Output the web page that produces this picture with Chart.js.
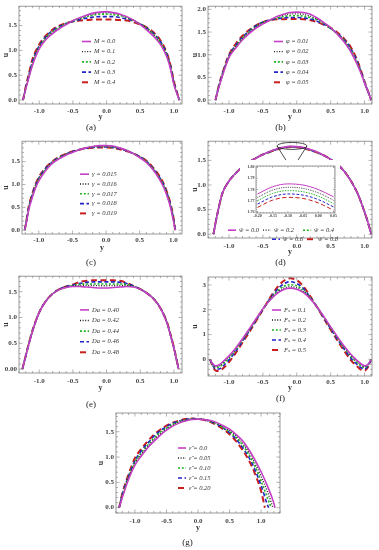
<!DOCTYPE html>
<html>
<head>
<meta charset="utf-8">
<script src="https://cdn.jsdelivr.net/npm/chart.js@4/dist/chart.umd.min.js"></script>
<style>
  body { margin: 0; background: #fff; }
  #wrap { position: relative; width: 379px; height: 550px; background: #fff; }
  canvas { position: absolute; }
</style>
</head>
<body>
<div id="wrap">
  <canvas id="ca" width="189" height="135" style="left:0;top:0"></canvas>
  <canvas id="cb" width="190" height="135" style="left:189px;top:0"></canvas>
  <canvas id="cc" width="189" height="135" style="left:0;top:135px"></canvas>
  <canvas id="cd" width="190" height="135" style="left:189px;top:135px"></canvas>
  <canvas id="ci" width="100" height="63" style="left:240px;top:160px;background:#fff"></canvas>
  <canvas id="ce" width="189" height="142" style="left:0;top:270px"></canvas>
  <canvas id="cf" width="190" height="136" style="left:189px;top:270px"></canvas>
  <canvas id="cg" width="190" height="150" style="left:95px;top:400px"></canvas>
</div>
<script>
// ---- data ----
const xTicks = [-1, -0.5, 0, 0.5, 1]
const xTickLabels = ["-1.0", "-0.5", "0.0", "0.5", "1.0"]
const uTicks = [0, 0.5, 1, 1.5]
const uTickLabels = ["0.0", "0.5", "1.0", "1.5"]

// (a) M
const aY = [-1.24, -1.2, -1.15, -1.1, -1.0, -0.9, -0.8, -0.7, -0.6, -0.5, -0.4, -0.3, -0.2, -0.1, 0, 0.1, 0.2, 0.3, 0.4, 0.5, 0.6, 0.7, 0.8, 0.9, 0.95, 1.0, 1.08]
const aM0 = [0, 0.22, 0.47, 0.7, 1.03, 1.22, 1.34, 1.44, 1.52, 1.6, 1.66, 1.71, 1.75, 1.77, 1.78, 1.76, 1.73, 1.68, 1.61, 1.52, 1.41, 1.28, 1.12, 0.85, 0.62, 0.31, 0]
const aM1 = [0, 0.23, 0.48, 0.72, 1.05, 1.24, 1.36, 1.45, 1.53, 1.6, 1.65, 1.7, 1.73, 1.76, 1.76, 1.75, 1.72, 1.67, 1.61, 1.53, 1.43, 1.3, 1.14, 0.87, 0.64, 0.33, 0]
const aM2 = [0, 0.24, 0.5, 0.75, 1.07, 1.26, 1.38, 1.47, 1.54, 1.59, 1.64, 1.68, 1.71, 1.73, 1.73, 1.72, 1.7, 1.66, 1.6, 1.53, 1.44, 1.32, 1.16, 0.89, 0.66, 0.34, 0]
const aM3 = [0, 0.25, 0.52, 0.78, 1.09, 1.28, 1.4, 1.48, 1.54, 1.58, 1.62, 1.65, 1.67, 1.68, 1.68, 1.68, 1.66, 1.63, 1.59, 1.53, 1.45, 1.34, 1.18, 0.91, 0.68, 0.36, 0]
const aM4 = [0, 0.27, 0.55, 0.82, 1.12, 1.3, 1.42, 1.5, 1.55, 1.58, 1.6, 1.61, 1.62, 1.62, 1.62, 1.62, 1.61, 1.6, 1.57, 1.52, 1.46, 1.36, 1.2, 0.93, 0.7, 0.38, 0]
const aLabels = ["M = 0.0", "M = 0.1", "M = 0.2", "M = 0.3", "M = 0.4"]

// (b) phi
const bY = [-1.2, -1.15, -1.1, -1.0, -0.9, -0.8, -0.7, -0.6, -0.5, -0.4, -0.3, -0.2, -0.1, 0, 0.1, 0.2, 0.3, 0.4, 0.5, 0.6, 0.7, 0.8, 0.9, 0.95, 1.0, 1.1]
const bP1 = [0, 0.28, 0.52, 0.94, 1.15, 1.33, 1.47, 1.59, 1.68, 1.76, 1.84, 1.89, 1.93, 1.94, 1.93, 1.89, 1.81, 1.71, 1.6, 1.45, 1.28, 1.06, 0.76, 0.58, 0.38, 0]
const bP2 = [0, 0.29, 0.53, 0.95, 1.17, 1.35, 1.49, 1.61, 1.7, 1.76, 1.83, 1.87, 1.9, 1.9, 1.89, 1.85, 1.79, 1.7, 1.59, 1.45, 1.29, 1.07, 0.77, 0.59, 0.38, 0]
const bP3 = [0, 0.3, 0.55, 0.96, 1.19, 1.37, 1.51, 1.62, 1.71, 1.76, 1.81, 1.84, 1.86, 1.86, 1.85, 1.82, 1.77, 1.69, 1.58, 1.46, 1.31, 1.1, 0.8, 0.6, 0.39, 0]
const bP4 = [0, 0.31, 0.57, 0.98, 1.21, 1.39, 1.53, 1.64, 1.72, 1.76, 1.79, 1.81, 1.82, 1.82, 1.81, 1.79, 1.74, 1.67, 1.58, 1.47, 1.33, 1.13, 0.82, 0.62, 0.4, 0]
const bP5 = [0, 0.32, 0.58, 1.0, 1.24, 1.42, 1.55, 1.65, 1.72, 1.76, 1.78, 1.78, 1.79, 1.79, 1.78, 1.76, 1.72, 1.66, 1.59, 1.49, 1.35, 1.16, 0.85, 0.64, 0.41, 0]
const bLabels = ["φ = 0.01", "φ = 0.02", "φ = 0.03", "φ = 0.04", "φ = 0.05"]

// (c) gamma
const cY = [-1.21, -1.18, -1.15, -1.1, -1.05, -1.0, -0.9, -0.8, -0.7, -0.6, -0.5, -0.4, -0.3, -0.2, -0.1, 0, 0.1, 0.2, 0.3, 0.4, 0.5, 0.6, 0.7, 0.8, 0.85, 0.9, 0.95, 1.0, 1.03]
const cG1 = [0, 0.2, 0.44, 0.7, 0.92, 1.08, 1.3, 1.46, 1.56, 1.64, 1.7, 1.76, 1.8, 1.83, 1.85, 1.85, 1.84, 1.8, 1.75, 1.68, 1.59, 1.48, 1.32, 1.1, 0.96, 0.78, 0.55, 0.22, 0]
const cG2 = [0, 0.21, 0.46, 0.72, 0.94, 1.1, 1.32, 1.47, 1.57, 1.65, 1.71, 1.76, 1.8, 1.83, 1.84, 1.84, 1.83, 1.8, 1.75, 1.68, 1.6, 1.49, 1.33, 1.12, 0.98, 0.8, 0.57, 0.24, 0]
const cG3 = [0, 0.22, 0.48, 0.74, 0.96, 1.12, 1.33, 1.48, 1.58, 1.66, 1.71, 1.76, 1.8, 1.82, 1.83, 1.83, 1.82, 1.79, 1.75, 1.68, 1.6, 1.5, 1.34, 1.13, 1.0, 0.82, 0.59, 0.26, 0]
const cG4 = [0, 0.23, 0.5, 0.76, 0.98, 1.14, 1.35, 1.49, 1.59, 1.66, 1.72, 1.76, 1.79, 1.81, 1.82, 1.82, 1.81, 1.78, 1.74, 1.68, 1.61, 1.51, 1.35, 1.15, 1.02, 0.84, 0.61, 0.28, 0]
const cG5 = [0, 0.25, 0.52, 0.78, 1.0, 1.16, 1.36, 1.5, 1.6, 1.67, 1.72, 1.76, 1.79, 1.8, 1.81, 1.81, 1.8, 1.77, 1.73, 1.68, 1.61, 1.52, 1.37, 1.17, 1.04, 0.86, 0.63, 0.3, 0]
const cLabels = ["γ = 0.015", "γ = 0.016", "γ = 0.017", "γ = 0.018", "γ = 0.019"]

// (d) w-hat, main plot and inset
const dY = [-1.23, -1.2, -1.15, -1.1, -1.0, -0.9, -0.8, -0.7, -0.6, -0.5, -0.4, -0.3, -0.2, -0.1, 0, 0.1, 0.2, 0.3, 0.4, 0.5, 0.6, 0.7, 0.8, 0.9, 1.0, 1.05, 1.1]
const dW0 = [0, 0.22, 0.55, 0.82, 1.08, 1.24, 1.37, 1.47, 1.55, 1.62, 1.68, 1.73, 1.765, 1.785, 1.78, 1.76, 1.72, 1.67, 1.6, 1.52, 1.42, 1.28, 1.08, 0.82, 0.45, 0.24, 0]
const dW1 = [0, 0.22, 0.55, 0.82, 1.08, 1.24, 1.37, 1.47, 1.55, 1.62, 1.677, 1.727, 1.762, 1.782, 1.777, 1.757, 1.717, 1.667, 1.6, 1.52, 1.42, 1.28, 1.08, 0.82, 0.45, 0.24, 0]
const dW2 = [0, 0.22, 0.55, 0.82, 1.08, 1.24, 1.37, 1.47, 1.55, 1.62, 1.674, 1.724, 1.759, 1.779, 1.774, 1.754, 1.714, 1.664, 1.6, 1.52, 1.42, 1.28, 1.08, 0.82, 0.45, 0.24, 0]
const dW3 = [0, 0.22, 0.55, 0.82, 1.08, 1.24, 1.37, 1.47, 1.55, 1.62, 1.671, 1.721, 1.756, 1.776, 1.771, 1.751, 1.711, 1.661, 1.6, 1.52, 1.42, 1.28, 1.08, 0.82, 0.45, 0.24, 0]
const dW4 = [0, 0.22, 0.55, 0.82, 1.08, 1.24, 1.37, 1.47, 1.55, 1.62, 1.668, 1.718, 1.753, 1.773, 1.768, 1.748, 1.708, 1.658, 1.6, 1.52, 1.42, 1.28, 1.08, 0.82, 0.45, 0.24, 0]
const dLabels = ["ŵ = 0.0", "ŵ = 0.2", "ŵ = 0.4", "ŵ = 0.6", "ŵ = 0.8"]
const dInY = [-0.2, -0.15, -0.1, -0.05, 0, 0.05]
const dIn0 = [1.776, 1.7825, 1.785, 1.784, 1.78, 1.7735]
const dIn1 = [1.773, 1.7795, 1.782, 1.781, 1.777, 1.7705]
const dIn2 = [1.77, 1.7765, 1.779, 1.778, 1.774, 1.7675]
const dIn3 = [1.767, 1.7735, 1.776, 1.775, 1.771, 1.7645]
const dIn4 = [1.764, 1.7705, 1.773, 1.772, 1.768, 1.7615]
const dInXTicks = [-0.2, -0.15, -0.1, -0.05, 0, 0.05]
const dInXLabels = ["-0.20", "-0.15", "-0.10", "-0.05", "0.00", "0.05"]
const dInUTicks = [1.76, 1.77, 1.78, 1.79, 1.8]
const dInULabels = ["1.76", "1.77", "1.78", "1.79", "1.80"]

// (e) Da
const eY = [-1.25, -1.2, -1.15, -1.1, -1.0, -0.9, -0.8, -0.7, -0.6, -0.5, -0.4, -0.3, -0.2, -0.1, 0, 0.1, 0.2, 0.3, 0.4, 0.5, 0.6, 0.7, 0.8, 0.9, 0.95, 1.0, 1.07]
const eD0 = [0, 0.25, 0.5, 0.73, 1.1, 1.32, 1.46, 1.54, 1.58, 1.6, 1.6, 1.59, 1.58, 1.57, 1.57, 1.58, 1.59, 1.6, 1.59, 1.55, 1.47, 1.36, 1.18, 0.88, 0.65, 0.4, 0]
const eD1 = [0, 0.25, 0.5, 0.73, 1.1, 1.32, 1.46, 1.54, 1.59, 1.61, 1.62, 1.62, 1.62, 1.615, 1.615, 1.62, 1.62, 1.62, 1.6, 1.55, 1.47, 1.36, 1.18, 0.88, 0.65, 0.4, 0]
const eD2 = [0, 0.25, 0.51, 0.74, 1.1, 1.32, 1.46, 1.54, 1.59, 1.62, 1.64, 1.65, 1.65, 1.65, 1.65, 1.65, 1.65, 1.64, 1.6, 1.55, 1.47, 1.36, 1.18, 0.89, 0.66, 0.41, 0]
const eD3 = [0, 0.26, 0.51, 0.74, 1.1, 1.32, 1.46, 1.55, 1.6, 1.63, 1.66, 1.68, 1.69, 1.69, 1.69, 1.69, 1.68, 1.66, 1.61, 1.55, 1.47, 1.36, 1.18, 0.89, 0.66, 0.41, 0]
const eD4 = [0, 0.26, 0.52, 0.75, 1.1, 1.32, 1.46, 1.55, 1.6, 1.64, 1.69, 1.71, 1.72, 1.72, 1.72, 1.72, 1.71, 1.67, 1.61, 1.55, 1.47, 1.36, 1.18, 0.9, 0.67, 0.42, 0]
const eLabels = ["Da = 0.40", "Da = 0.42", "Da = 0.44", "Da = 0.46", "Da = 0.48"]
const eUTickLabels = ["0.00", "0.5", "1.0", "1.5"]

// (f) Fs
const fY = [-1.28, -1.25, -1.2, -1.15, -1.1, -1.0, -0.9, -0.8, -0.7, -0.6, -0.5, -0.4, -0.3, -0.2, -0.1, 0, 0.1, 0.2, 0.3, 0.4, 0.5, 0.6, 0.7, 0.8, 0.85, 0.9, 0.95, 1.0, 1.05, 1.1]
const fF1 = [0, -0.15, -0.26, -0.23, -0.12, 0.14, 0.46, 0.83, 1.23, 1.64, 2.04, 2.37, 2.64, 2.81, 2.87, 2.83, 2.69, 2.44, 2.11, 1.72, 1.31, 0.91, 0.53, 0.2, 0.06, -0.07, -0.18, -0.26, -0.2, 0]
const fF2 = [0, -0.16, -0.29, -0.27, -0.16, 0.1, 0.43, 0.81, 1.21, 1.63, 2.03, 2.38, 2.67, 2.86, 2.93, 2.88, 2.73, 2.46, 2.11, 1.71, 1.29, 0.89, 0.5, 0.16, 0.02, -0.11, -0.22, -0.29, -0.22, 0]
const fF3 = [0, -0.17, -0.32, -0.31, -0.21, 0.05, 0.39, 0.78, 1.18, 1.61, 2.03, 2.4, 2.72, 2.93, 3.01, 2.96, 2.78, 2.48, 2.11, 1.69, 1.27, 0.86, 0.46, 0.12, -0.03, -0.15, -0.26, -0.33, -0.24, 0]
const fF4 = [0, -0.2, -0.38, -0.39, -0.3, -0.02, 0.33, 0.73, 1.15, 1.58, 2.01, 2.43, 2.78, 3.03, 3.13, 3.06, 2.85, 2.5, 2.1, 1.67, 1.23, 0.81, 0.41, 0.04, -0.1, -0.23, -0.34, -0.39, -0.28, 0]
const fF5 = [0, -0.22, -0.44, -0.47, -0.39, -0.11, 0.26, 0.68, 1.1, 1.55, 2.0, 2.46, 2.86, 3.15, 3.27, 3.19, 2.94, 2.54, 2.1, 1.64, 1.19, 0.76, 0.34, -0.04, -0.19, -0.31, -0.42, -0.46, -0.32, 0]
const fLabels = ["Fₛ = 0.1", "Fₛ = 0.2", "Fₛ = 0.3", "Fₛ = 0.4", "Fₛ = 0.5"]
const fUTicks = [0, 1, 2, 3]
const fUTickLabels = ["0", "1", "2", "3"]

// (g) epsilon-hat (right wall moves in)
const gY = [-1.25, -1.2, -1.1, -1.0, -0.9, -0.8, -0.7, -0.6, -0.5, -0.4, -0.3, -0.2, -0.1, 0, 0.1, 0.2, 0.3, 0.4, 0.5, 0.6, 0.7, 0.8, 0.9, 1.0, 1.1, 1.2]
const gE0 = [0, 0.2, 0.56, 0.84, 1.02, 1.18, 1.31, 1.43, 1.53, 1.61, 1.67, 1.71, 1.74, 1.75, 1.74, 1.72, 1.68, 1.62, 1.55, 1.45, 1.33, 1.16, 0.95, 0.71, 0.43, 0.1]
const gE1 = [0, 0.22, 0.59, 0.87, 1.05, 1.2, 1.34, 1.46, 1.55, 1.63, 1.68, 1.72, 1.75, 1.75, 1.74, 1.71, 1.67, 1.6, 1.52, 1.42, 1.29, 1.11, 0.89, 0.62, 0.32, null]
const gE2 = [0, 0.24, 0.61, 0.9, 1.08, 1.23, 1.37, 1.49, 1.57, 1.65, 1.7, 1.73, 1.75, 1.75, 1.74, 1.7, 1.66, 1.58, 1.5, 1.39, 1.25, 1.06, 0.83, 0.53, 0.2, null]
const gE3 = [0, 0.26, 0.63, 0.93, 1.12, 1.27, 1.41, 1.52, 1.6, 1.67, 1.71, 1.74, 1.76, 1.75, 1.74, 1.7, 1.65, 1.57, 1.48, 1.36, 1.2, 1.01, 0.76, 0.44, 0.06, null]
const gE4 = [0, 0.28, 0.66, 0.98, 1.16, 1.31, 1.44, 1.54, 1.62, 1.68, 1.72, 1.75, 1.76, 1.75, 1.73, 1.69, 1.63, 1.55, 1.45, 1.32, 1.15, 0.95, 0.68, 0.33, null, null]
const gEnd = [1.22, 1.19, 1.16, 1.12, 1.06]
const gLabels = ["ε̂ = 0.0", "ε̂ = 0.05", "ε̂ = 0.10", "ε̂ = 0.15", "ε̂ = 0.20"]

// ---- styling ----
const serif = '"Liberation Serif", "DejaVu Serif", serif'
const looks = [
  { color: "#c43fc4", dash: [], width: 1.6 },
  { color: "#1c1c1c", dash: [1, 1.6], width: 1.3 },
  { color: "#22b222", dash: [2, 1.8], width: 1.6 },
  { color: "#2323c6", dash: [4, 2.5], width: 1.6 },
  { color: "#c81e1e", dash: [6, 3.5], width: 2 }
]

function series(xs, list, labels, ends, thin) {
  return list.map((vals, i) => {
    const data = []
    xs.forEach((x, j) => {
      if (vals[j] !== null) data.push({ x: x, y: vals[j] })
    })
    if (ends) data.push({ x: ends[i], y: 0 })
    const lk = looks[i]
    return {
      label: labels[i],
      data: data,
      borderColor: lk.color,
      borderDash: thin ? lk.dash.map(d => d * 0.7) : lk.dash,
      borderWidth: thin ? 1 : lk.width,
      pointRadius: 0,
      fill: false,
      cubicInterpolationMode: "monotone"
    }
  })
}

// boxed frame with inward ticks on all four sides
const framePlugin = {
  id: "frame",
  afterDatasetsDraw(chart, args, o) {
    const { ctx, chartArea: a } = chart
    ctx.save()
    ctx.strokeStyle = "#808080"
    ctx.lineWidth = 0.8
    ctx.strokeRect(a.left, a.top, a.right - a.left, a.bottom - a.top)
    ctx.lineWidth = 0.6
    const marks = scale => {
      const vals = scale.ticks.map(t => t.value)
      const step = vals[1] - vals[0]
      const minor = step / 5
      const start = vals[0] - Math.floor((vals[0] - scale.min) / minor + 1e-9) * minor
      const out = []
      for (let k = 0; start + k * minor <= scale.max + 1e-9; k++) {
        const v = start + k * minor
        const r = (v - vals[0]) / step
        const major = Math.abs(r - Math.round(r)) < 1e-6
        out.push([scale.getPixelForValue(v), major ? o.major : o.minor])
      }
      return out
    }
    ctx.beginPath()
    marks(chart.scales.x).forEach(([p, len]) => {
      ctx.moveTo(p, a.bottom); ctx.lineTo(p, a.bottom - len)
      ctx.moveTo(p, a.top); ctx.lineTo(p, a.top + len)
    })
    marks(chart.scales.y).forEach(([p, len]) => {
      ctx.moveTo(a.left, p); ctx.lineTo(a.left + len, p)
      ctx.moveTo(a.right, p); ctx.lineTo(a.right - len, p)
    })
    ctx.stroke()
    ctx.restore()
  }
}

// legend drawn inside the plot box
const inLegend = {
  id: "inLegend",
  afterDatasetsDraw(chart, args, o) {
    if (!o.cells) return
    const { ctx, chartArea: a } = chart
    ctx.save()
    ctx.font = "italic 6.5px " + serif
    ctx.textBaseline = "middle"
    chart.data.datasets.forEach((ds, i) => {
      const x = a.left + o.cells[i][0]
      const y = a.top + o.cells[i][1]
      ctx.strokeStyle = ds.borderColor
      ctx.lineWidth = ds.borderWidth
      ctx.setLineDash(ds.borderDash)
      ctx.beginPath()
      ctx.moveTo(x, y)
      ctx.lineTo(x + o.len, y)
      ctx.stroke()
      ctx.setLineDash([])
      ctx.fillStyle = "#333"
      ctx.fillText(ds.label, x + o.len + 3, y)
    })
    ctx.restore()
  }
}

// ellipse + cone pointing at the inset in (d)
const zoomMark = {
  id: "zoomMark",
  afterDatasetsDraw(chart, args, o) {
    if (!o.on) return
    const { ctx, scales: { x, y } } = chart
    const cx = x.getPixelForValue(o.x)
    const cy = y.getPixelForValue(o.y)
    const ay = y.getPixelForValue(o.apex)
    ctx.save()
    ctx.strokeStyle = "#222"
    ctx.lineWidth = 0.8
    ctx.beginPath()
    ctx.ellipse(cx, cy, o.rx, o.ry, 0, 0, Math.PI * 2)
    ctx.moveTo(cx - o.rx, cy)
    ctx.lineTo(cx, ay)
    ctx.lineTo(cx + o.rx, cy)
    ctx.stroke()
    ctx.restore()
  }
}

function column(dx, dy, step) {
  return [0, 1, 2, 3, 4].map(k => [dx, dy + k * step])
}

function axis(c, horizontal) {
  return {
    type: "linear",
    min: c.min,
    max: c.max,
    afterBuildTicks: s => { s.ticks = c.ticks.map(v => ({ value: v })) },
    afterFit: s => { if (horizontal) s.height = c.size; else s.width = c.size },
    grid: { display: false, drawTicks: false },
    border: { display: false },
    ticks: {
      autoSkip: false,
      maxRotation: 0,
      padding: c.tickPad,
      color: "#444",
      font: { family: serif, size: c.font || 7, weight: "bold" },
      callback: (v, i) => c.labels[i]
    },
    title: {
      display: !!c.title,
      text: c.title,
      color: "#333",
      font: { family: serif, size: 8, weight: "bold" },
      padding: { top: c.titlePad || 0, bottom: c.titlePad || 0 }
    }
  }
}

function panel(id, p) {
  return new Chart(document.getElementById(id), {
    type: "line",
    data: { datasets: p.datasets },
    options: {
      responsive: false,
      animation: false,
      events: [],
      layout: { padding: { top: p.top, right: p.right, left: 0, bottom: 0 } },
      scales: { x: axis(p.x, true), y: axis(p.y, false) },
      plugins: {
        legend: { display: false },
        tooltip: { enabled: false },
        title: {
          display: !!p.caption,
          text: p.caption,
          position: "bottom",
          color: "#222",
          font: { family: serif, size: 9, weight: "normal" },
          padding: { top: 0, bottom: 2 }
        },
        frame: p.frame || { major: 3.5, minor: 2 },
        inLegend: p.legend || {},
        zoomMark: p.zoom || {}
      }
    },
    plugins: [framePlugin, inLegend, zoomMark]
  })
}

const xAxisStd = (min, max, size, tickPad, titlePad) => ({
  min, max, size, tickPad, titlePad, ticks: xTicks, labels: xTickLabels, title: "y"
})
const uAxis = (min, max, size, ticks, labels) => ({
  min, max, size, ticks, labels, tickPad: 2, titlePad: 1, title: "u"
})

panel("ca", {
  datasets: series(aY, [aM0, aM1, aM2, aM3, aM4], aLabels),
  top: 4, right: 7, caption: "(a)",
  x: xAxisStd(-1.30, 1.12, 18.2, 2.5, 0),
  y: uAxis(-0.08, 1.89, 19, uTicks, uTickLabels),
  legend: { cells: column(63, 35.3, 10.2), len: 9 }
})

panel("cb", {
  datasets: series(bY, [bP1, bP2, bP3, bP4, bP5], bLabels),
  top: 4, right: 7, caption: "(b)",
  x: xAxisStd(-1.31, 1.11, 18.2, 2.5, 0),
  y: uAxis(-0.086, 2.07, 19, [0, 0.5, 1, 1.5, 2], ["0.0", "0.5", "1.0", "1.5", "2.0"]),
  legend: { cells: column(66, 35.3, 10.2), len: 9 }
})

panel("cc", {
  datasets: series(cY, [cG1, cG2, cG3, cG4, cG5], cLabels),
  top: 2, right: 7, caption: "(c)",
  x: xAxisStd(-1.25, 1.13, 23.2, 1.5, 4.4),
  y: uAxis(-0.084, 1.946, 22, uTicks, uTickLabels),
  legend: { cells: column(58, 33, 9.8), len: 9 }
})

panel("cd", {
  datasets: series(dY, [dW0, dW1, dW2, dW3, dW4], dLabels),
  top: 1, right: 7, caption: "(d)",
  x: xAxisStd(-1.31, 1.11, 19.2, 3.5, 0),
  y: uAxis(-0.077, 1.89, 19, uTicks, uTickLabels),
  legend: { cells: [[20, 89], [55, 89], [95, 89], [64, 98], [99, 98]], len: 8 },
  zoom: { on: true, x: -0.071, y: 1.794, apex: 1.311, rx: 15, ry: 3.5 }
})

panel("ci", {
  datasets: series(dInY, [dIn0, dIn1, dIn2, dIn3, dIn4], dLabels, null, true),
  top: 6, right: 5,
  x: { min: -0.205, max: 0.055, size: 10, tickPad: 1, ticks: dInXTicks, labels: dInXLabels, font: 4 },
  y: { min: 1.759, max: 1.801, size: 16, tickPad: 1.5, ticks: dInUTicks, labels: dInULabels, font: 4 },
  frame: { major: 2, minor: 1 }
})

panel("ce", {
  datasets: series(eY, [eD0, eD1, eD2, eD3, eD4], eLabels),
  top: 4, right: 7, caption: "(e)",
  x: xAxisStd(-1.30, 1.12, 26.2, 4, 6.4),
  y: uAxis(-0.075, 1.80, 19, uTicks, eUTickLabels),
  legend: { cells: column(61, 33.7, 10.6), len: 9 }
})

panel("cf", {
  datasets: series(fY, [fF1, fF2, fF3, fF4, fF5], fLabels),
  top: 7, right: 7, caption: "(f)",
  x: xAxisStd(-1.31, 1.11, 17.2, 2, 0),
  y: uAxis(-0.67, 3.32, 19, fUTicks, fUTickLabels),
  legend: { cells: column(64, 33, 10), len: 9 }
})

panel("cg", {
  datasets: series(gY, [gE0, gE1, gE2, gE3, gE4], gLabels, gEnd),
  top: 13, right: 5, caption: "(g)",
  x: xAxisStd(-1.30, 1.30, 24.2, 3.5, 4.4),
  y: uAxis(-0.105, 1.87, 21, uTicks, uTickLabels),
  legend: { cells: column(62, 35, 10), len: 8 }
})
</script>
</body>
</html>
